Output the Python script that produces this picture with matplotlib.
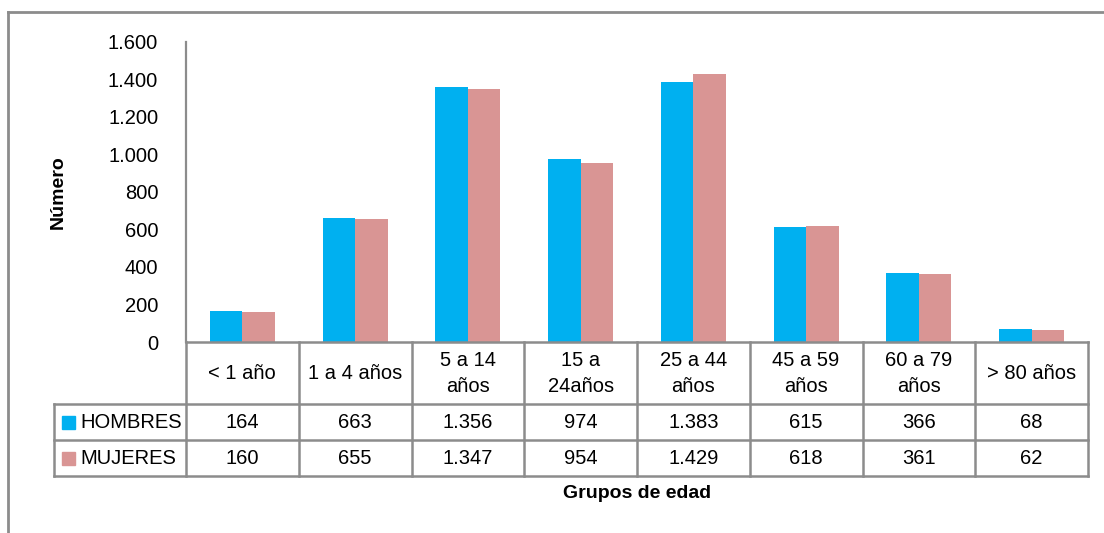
import matplotlib
matplotlib.use("Agg")
import matplotlib.pyplot as plt
import numpy as np
from matplotlib.lines import Line2D
from matplotlib.patches import Rectangle
from matplotlib.transforms import blended_transform_factory

plt.rcParams["font.family"] = ["Liberation Sans", "DejaVu Sans"]

categories = ["< 1 año", "1 a 4 años", "5 a 14\naños", "15 a\n24años", "25 a 44\naños",
              "45 a 59\naños", "60 a 79\naños", "> 80 años"]
hombres = [164, 663, 1356, 974, 1383, 615, 366, 68]
mujeres = [160, 655, 1347, 954, 1429, 618, 361, 62]
series_names = ["HOMBRES", "MUJERES"]
yticks = [0, 200, 400, 600, 800, 1000, 1200, 1400, 1600]

BLUE = "#00B0F0"
PINK = "#D99594"
GRID = "#8C8C8C"
FS = 14.5

W, H = 1104, 533
fig = plt.figure(figsize=(W / 100, H / 100), dpi=100)


def fx(px):
    return px / W


def fy(py):
    return 1 - py / H


def fmt(v):
    return f"{v:,}".replace(",", ".")


# plot area
x0, x1 = 186, 1088
y_top, y_zero = 41.7, 342
ax = fig.add_axes([fx(x0), fy(y_zero), fx(x1 - x0), (y_zero - y_top) / H])

n = len(categories)
x = np.arange(n)
bw = 0.288
ax.bar(x - bw / 2, hombres, bw, color=BLUE, zorder=2)
ax.bar(x + bw / 2, mujeres, bw, color=PINK, zorder=2)

ax.set_xlim(-0.5, n - 0.5)
ax.set_ylim(0, 1600)
ax.set_yticks(yticks)
ax.set_yticklabels([fmt(v) for v in yticks], fontsize=FS)
ax.tick_params(axis="y", length=0, pad=20)
ax.set_xticks([])
for side in ["top", "right", "bottom"]:
    ax.spines[side].set_visible(False)
ax.spines["left"].set_color(GRID)
ax.spines["left"].set_linewidth(1.6)

# data table under the chart
tr = blended_transform_factory(ax.transData, fig.transFigure)
row_y = [342, 403.7, 440, 475.6]
lw = 1.8
edges = np.arange(n + 1) - 0.5
label_left = 54

fig.add_artist(Line2D([edges[0], edges[-1]], [fy(row_y[0])] * 2, transform=tr, color=GRID, lw=lw))
for py in row_y[1:]:
    fig.add_artist(Line2D([fx(label_left), fx(x1)], [fy(py)] * 2, transform=fig.transFigure,
                          color=GRID, lw=lw))
for e in edges:
    fig.add_artist(Line2D([e, e], [fy(row_y[0]), fy(row_y[-1])], transform=tr, color=GRID, lw=lw))
fig.add_artist(Line2D([fx(label_left)] * 2, [fy(row_y[1]), fy(row_y[-1])],
                      transform=fig.transFigure, color=GRID, lw=lw))

for i, cat in enumerate(categories):
    fig.text(i, fy((row_y[0] + row_y[1]) / 2 + 1), cat, transform=tr, ha="center", va="center",
             fontsize=FS, linespacing=1.45)
    for r, vals in enumerate([hombres, mujeres]):
        fig.text(i, fy((row_y[r + 1] + row_y[r + 2]) / 2 + 1), fmt(vals[i]),
                 transform=tr, ha="center", va="center", fontsize=FS)

for r, (name, col) in enumerate(zip(series_names, [BLUE, PINK])):
    yc = (row_y[r + 1] + row_y[r + 2]) / 2
    fig.add_artist(Rectangle((fx(62), fy(yc + 7)), fx(13), 13 / H, transform=fig.transFigure,
                             color=col))
    fig.text(fx(80), fy(yc + 1), name, ha="left", va="center", fontsize=FS)

# axis titles
fig.text(fx(58), fy(192), "Número", rotation=90, ha="center", va="center",
         fontsize=14, fontweight="bold")
fig.text((n - 1) / 2, fy(494), "Grupos de edad", transform=tr, ha="center", va="center",
         fontsize=14, fontweight="bold")

# chart frame
fig.add_artist(Line2D([fx(8), 1], [fy(12), fy(12)], transform=fig.transFigure, color=GRID, lw=2))
fig.add_artist(Line2D([fx(8), fx(8)], [fy(12), 0], transform=fig.transFigure, color=GRID, lw=2))

fig.savefig("out.png", dpi=100)
